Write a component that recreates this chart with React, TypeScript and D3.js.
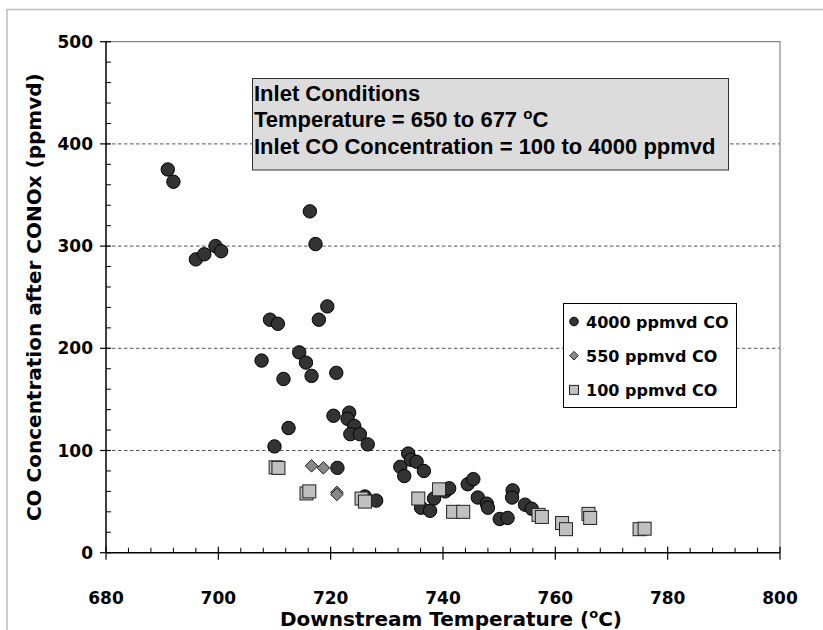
import React from 'react';
import * as d3 from 'd3';

// 4000 ppmvd CO series
const temp4000 = [
  691.0, 692.0, 696.0, 697.5, 699.5, 700.5, 709.2, 710.6, 716.3, 717.3, 719.4,
  717.9, 707.7, 711.6, 714.4, 715.6, 716.6, 721.0, 712.5, 710.0, 720.5, 723.3,
  723.0, 724.2, 723.5, 725.2, 726.6, 721.2, 726.1, 728.1, 732.4, 733.1, 733.8,
  734.3, 735.3, 736.6, 736.1, 737.7, 738.4, 740.4, 741.1, 744.4, 745.4, 746.2,
  747.8, 748.0, 750.1, 751.5, 752.4, 752.3, 754.6, 755.8,
];
const co4000 = [
  375, 363, 287, 292, 300, 295, 228, 224, 334, 302, 241, 228, 188, 170, 196,
  186, 173, 176, 122, 104, 134, 137, 131, 124, 116, 116, 106, 83, 55, 51, 84,
  75, 97, 91, 89, 80, 44, 41, 53, 60, 63, 67, 72, 54, 48, 44, 33, 34, 61, 54,
  47, 43,
];

// 550 ppmvd CO series
const temp550 = [716.6, 718.7, 721.1, 721.1];
const co550 = [85, 83, 59, 57];

// 100 ppmvd CO series
const temp100 = [
  710.2, 710.7, 715.7, 716.2, 725.5, 726.1, 735.6, 739.3, 741.8, 743.6, 757.0,
  757.6, 761.2, 761.9, 765.9, 766.2, 775.0, 775.9,
];
const co100 = [
  83.5, 83, 58, 60, 53, 50, 53, 62, 40, 40, 37, 35, 29, 23, 38, 34, 23, 23.5,
];

const xTicks = [680, 700, 720, 740, 760, 780, 800];
const yTicks = [0, 100, 200, 300, 400, 500];
const legendLabels = ['4000 ppmvd CO', '550 ppmvd CO', '100 ppmvd CO'];
const noteLines = ['Inlet Conditions', 'Temperature = 650 to 677 ', 'Inlet CO Concentration = 100 to 4000 ppmvd'];

const W = 823;
const H = 630;
const axisFont = "'DejaVu Sans', Verdana, sans-serif";
const noteFont = "'Liberation Sans', Arial, sans-serif";

const diamond = (cx: number, cy: number, r: number) =>
  `M${cx},${cy - r}L${cx + r},${cy}L${cx},${cy + r}L${cx - r},${cy}Z`;

export default function App() {
  const x = d3.scaleLinear().domain([680, 800]).range([106, 780]);
  const y = d3.scaleLinear().domain([0, 500]).range([552.7, 41.7]);

  const minorX = d3.range(680, 801, 4).filter((v) => v % 20 !== 0);
  const minorY = d3.range(0, 501, 20).filter((v) => v % 100 !== 0);

  const [x0, x1] = x.range();
  const [y0, y1] = y.range();

  return (
    <svg
      width={W}
      height={H}
      style={{position: 'absolute', left: 0, top: 0, background: '#fff'}}
    >
      {/* outer chart frame */}
      <path d={`M7,${H}V9.5H${W}`} fill="none" stroke="#bdbdbd" strokeWidth={1.5} />

      {/* gridlines */}
      {yTicks.slice(1, -1).map((t) => (
        <line
          key={`g${t}`}
          x1={x0}
          x2={x1}
          y1={y(t)}
          y2={y(t)}
          stroke="#555"
          strokeWidth={1}
          strokeDasharray="3.5,2.5"
        />
      ))}

      {/* plot area border top/right */}
      <path d={`M${x0},${y1}H${x1}V${y0}`} fill="none" stroke="#888" strokeWidth={1.2} />

      {/* axes */}
      <line x1={x0} x2={x1} y1={y0} y2={y0} stroke="#000" strokeWidth={1.5} />
      <line x1={x0} x2={x0} y1={y0} y2={y1} stroke="#000" strokeWidth={1.5} />

      {xTicks.map((t) => (
        <line key={`xt${t}`} x1={x(t)} x2={x(t)} y1={y0 - 6} y2={y0 + 7} stroke="#000" strokeWidth={1.2} />
      ))}
      {minorX.map((t) => (
        <line key={`xm${t}`} x1={x(t)} x2={x(t)} y1={y0 - 5} y2={y0} stroke="#000" strokeWidth={1} />
      ))}
      {yTicks.map((t) => (
        <line key={`yt${t}`} x1={x0 - 6} x2={x0 + 5} y1={y(t)} y2={y(t)} stroke="#000" strokeWidth={1.2} />
      ))}
      {minorY.map((t) => (
        <line key={`ym${t}`} x1={x0} x2={x0 + 5} y1={y(t)} y2={y(t)} stroke="#000" strokeWidth={1} />
      ))}

      {xTicks.map((t) => (
        <text
          key={`xl${t}`}
          x={x(t)}
          y={604}
          textAnchor="middle"
          fontFamily={axisFont}
          fontWeight="bold"
          fontSize={17}
        >
          {t}
        </text>
      ))}
      {yTicks.map((t) => (
        <text
          key={`yl${t}`}
          x={93}
          y={y(t) + 6}
          textAnchor="end"
          fontFamily={axisFont}
          fontWeight="bold"
          fontSize={17}
        >
          {t}
        </text>
      ))}

      {/* axis titles */}
      <text
        x={451}
        y={626}
        textAnchor="middle"
        fontFamily={axisFont}
        fontWeight="bold"
        fontSize={20}
      >
        Downstream Temperature (
        <tspan fontSize={13} dy={-8}>o</tspan>
        <tspan dy={8}>C)</tspan>
      </text>
      <text
        transform={`translate(41,${(y0 + y1) / 2}) rotate(-90)`}
        textAnchor="middle"
        fontFamily={axisFont}
        fontWeight="bold"
        fontSize={20}
      >
        CO Concentration after CONOx (ppmvd)
      </text>

      {/* data: 4000 ppmvd */}
      {temp4000.map((t, i) => (
        <circle
          key={`c${i}`}
          cx={x(t)}
          cy={y(co4000[i])}
          r={6.7}
          fill="#333"
          stroke="#000"
          strokeWidth={1}
        />
      ))}
      {/* data: 550 ppmvd */}
      {temp550.map((t, i) => (
        <path
          key={`d${i}`}
          d={diamond(x(t), y(co550[i]), 6.3)}
          fill="#888"
          stroke="#222"
          strokeWidth={1}
        />
      ))}
      {/* data: 100 ppmvd */}
      {temp100.map((t, i) => (
        <rect
          key={`s${i}`}
          x={x(t) - 6.5}
          y={y(co100[i]) - 6.5}
          width={13}
          height={13}
          fill="#c0c0c0"
          stroke="#222"
          strokeWidth={1}
        />
      ))}

      {/* annotation box */}
      <rect x={252.5} y={78.5} width={476} height={91.5} fill="#dcdcdc" stroke="#333" strokeWidth={1} />
      {noteLines.map((l, i) => (
        <text
          key={`n${i}`}
          x={254}
          y={100.5 + i * 26.5}
          fontFamily={noteFont}
          fontWeight="bold"
          fontSize={22}
        >
          {l}
          {i === 1 && (
            <>
              <tspan fontSize={15} dy={-8}>o</tspan>
              <tspan dy={8}>C</tspan>
            </>
          )}
        </text>
      ))}

      {/* legend */}
      <rect x={563.5} y={303.5} width={173} height={104} fill="#fff" stroke="#000" strokeWidth={1} />
      {legendLabels.map((l, i) => {
        const ly = 321.5 + i * 34.2;
        return (
          <g key={`lg${i}`}>
            {i === 0 && <circle cx={574} cy={ly} r={4.3} fill="#333" stroke="#000" />}
            {i === 1 && <path d={diamond(574, ly, 4.3)} fill="#888" stroke="#222" />}
            {i === 2 && <rect x={569.5} y={ly - 4.5} width={9} height={9} fill="#c0c0c0" stroke="#222" />}
            <text
              x={586}
              y={ly + 6}
              fontFamily={axisFont}
              fontWeight="bold"
              fontSize={16}
            >
              {l}
            </text>
          </g>
        );
      })}
    </svg>
  );
}
